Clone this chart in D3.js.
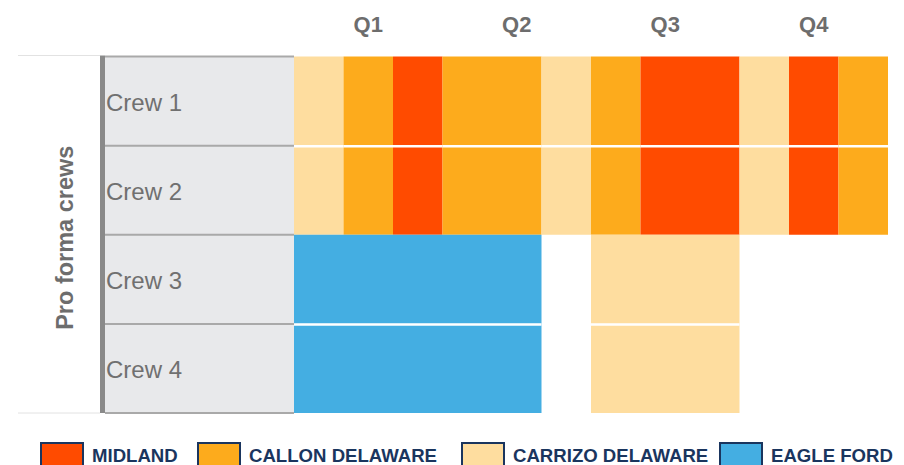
<!DOCTYPE html>
<meta charset="utf-8">
<style>
body { margin: 0; background: #fff; }
text { font-family: "Liberation Sans", Arial, sans-serif; }
.quarter { font-size: 22px; font-weight: bold; fill: #6d6d6d; }
.crew { font-size: 24px; fill: #707070; }
.ytitle { font-size: 23.5px; font-weight: bold; fill: #6d6d6d; }
.legend text { font-size: 18.6px; font-weight: bold; fill: #1a355e; }
</style>
<body>
<script src="https://d3js.org/d3.v7.min.js"></script>
<script>

// data: region by month for each crew
var quarters = ["Q1", "Q2", "Q3", "Q4"];
var crews = ["Crew 1", "Crew 2", "Crew 3", "Crew 4"];
var regions = ["MIDLAND", "CALLON DELAWARE", "CARRIZO DELAWARE", "EAGLE FORD"];
var regionColors = ["#ff4b00", "#fdab1c", "#fedd9f", "#44aee2"];

var crew1 = ["CARRIZO DELAWARE", "CALLON DELAWARE", "MIDLAND", "CALLON DELAWARE", "CALLON DELAWARE", "CARRIZO DELAWARE",
             "CALLON DELAWARE", "MIDLAND", "MIDLAND", "CARRIZO DELAWARE", "MIDLAND", "CALLON DELAWARE"];
var crew2 = ["CARRIZO DELAWARE", "CALLON DELAWARE", "MIDLAND", "CALLON DELAWARE", "CALLON DELAWARE", "CARRIZO DELAWARE",
             "CALLON DELAWARE", "MIDLAND", "MIDLAND", "CARRIZO DELAWARE", "MIDLAND", "CALLON DELAWARE"];
var crew3 = ["EAGLE FORD", "EAGLE FORD", "EAGLE FORD", "EAGLE FORD", "EAGLE FORD", null,
             "CARRIZO DELAWARE", "CARRIZO DELAWARE", "CARRIZO DELAWARE", null, null, null];
var crew4 = ["EAGLE FORD", "EAGLE FORD", "EAGLE FORD", "EAGLE FORD", "EAGLE FORD", null,
             "CARRIZO DELAWARE", "CARRIZO DELAWARE", "CARRIZO DELAWARE", null, null, null];
var schedule = [crew1, crew2, crew3, crew4];

// layout
var width = 904, height = 465;
var gridLeft = 294, gridRight = 888, gridTop = 56.5, gridBottom = 413;
var labelLeft = 105;
var legendX = [40, 197, 461, 719];

var svg = d3.select("body").append("svg")
    .attr("width", width)
    .attr("height", height);

var x = d3.scaleLinear().domain([0, 12]).range([gridLeft, gridRight]);
var y = d3.scaleBand().domain(crews).range([gridTop, gridBottom]);
var color = d3.scaleOrdinal().domain(regions).range(regionColors);

// merge consecutive months into runs
function runs(months) {
  var out = [];
  months.forEach(function(r, i) {
    var last = out[out.length - 1];
    if (last && last.region === r) last.end = i + 1;
    else out.push({region: r, start: i, end: i + 1});
  });
  return out.filter(function(d) { return d.region; });
}

// quarter headers
svg.selectAll(".quarter")
    .data(quarters)
  .enter().append("text")
    .attr("class", "quarter")
    .attr("x", function(d, i) { return x(i * 3 + 1.5); })
    .attr("y", 31.5)
    .attr("text-anchor", "middle")
    .text(function(d) { return d; });

// faint lines on the left
[gridTop - 1, gridBottom].forEach(function(v) {
  svg.append("line")
      .attr("x1", 18).attr("x2", 100)
      .attr("y1", v).attr("y2", v)
      .attr("stroke", "#e2e2e2").attr("stroke-width", 1);
});

// label column
svg.append("rect")
    .attr("x", labelLeft).attr("y", gridTop)
    .attr("width", gridLeft - labelLeft).attr("height", gridBottom - gridTop)
    .attr("fill", "#e8e9eb");

var bounds = crews.map(function(c) { return y(c); }).concat([gridBottom]);
svg.selectAll(".rowline")
    .data(bounds)
  .enter().append("line")
    .attr("x1", labelLeft).attr("x2", gridLeft)
    .attr("y1", function(d) { return d; })
    .attr("y2", function(d) { return d; })
    .attr("stroke", "#a9a9a9").attr("stroke-width", 2);

svg.append("rect")
    .attr("x", 100).attr("y", gridTop - 1)
    .attr("width", 5).attr("height", gridBottom - gridTop + 1)
    .attr("fill", "#8a8a8a");

svg.selectAll(".crew")
    .data(crews)
  .enter().append("text")
    .attr("class", "crew")
    .attr("x", 106)
    .attr("y", function(d) { return y(d) + y.bandwidth() / 2 + 10; })
    .text(function(d) { return d; });

svg.append("text")
    .attr("class", "ytitle")
    .attr("transform", "translate(72.5," + ((gridTop + gridBottom) / 2 + 3) + ") rotate(-90)")
    .attr("text-anchor", "middle")
    .text("Pro forma crews");

// schedule cells
schedule.forEach(function(months, row) {
  svg.append("g").selectAll("rect")
      .data(runs(months))
    .enter().append("rect")
      .attr("x", function(d) { return x(d.start); })
      .attr("width", function(d) { return x(d.end) - x(d.start); })
      .attr("y", y(crews[row]))
      .attr("height", y.bandwidth())
      .attr("fill", function(d) { return color(d.region); });
});

// white separators between rows that share the same plan
schedule.forEach(function(months, row) {
  if (row === 0) return;
  var prev = schedule[row - 1];
  if (prev.join() !== months.join()) return;
  svg.append("g").selectAll("line")
      .data(runs(months))
    .enter().append("line")
      .attr("x1", function(d) { return x(d.start); })
      .attr("x2", function(d) { return x(d.end); })
      .attr("y1", y(crews[row]) + 0.5)
      .attr("y2", y(crews[row]) + 0.5)
      .attr("stroke", "#fff").attr("stroke-width", 2.5);
});

// legend
var legend = svg.append("g").attr("class", "legend")
  .selectAll("g")
    .data(regions)
  .enter().append("g")
    .attr("transform", function(d, i) { return "translate(" + legendX[i] + ",0)"; });

legend.append("rect")
    .attr("x", 1).attr("y", 443)
    .attr("width", 42).attr("height", 30)
    .attr("fill", function(d) { return color(d); })
    .attr("stroke", "#1a355e").attr("stroke-width", 2);

legend.append("text")
    .attr("x", 52).attr("y", 462)
    .text(function(d) { return d; });

</script>
</body>
